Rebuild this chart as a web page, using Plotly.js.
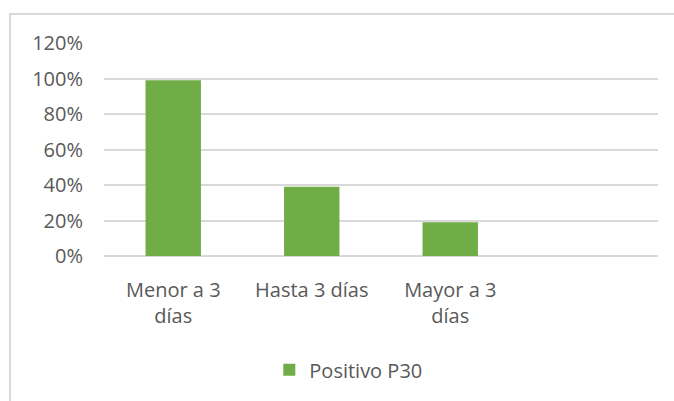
<!DOCTYPE html>
<html>
<head>
<meta charset="utf-8">
<script src="https://cdn.plot.ly/plotly-3.0.1.min.js"></script>
<style>
  html, body { margin: 0; padding: 0; background: #fff; overflow: hidden; }
  #wrap { position: relative; width: 674px; height: 401px; }
  #chart { position: absolute; left: 0; top: 0; width: 674px; height: 401px; }
  #frame { position: absolute; left: 9px; top: 13px; width: 700px; height: 420px;
           border: 2px solid #d9d9d9; box-sizing: border-box; pointer-events: none; }
</style>
</head>
<body>
<div id="wrap">
  <div id="chart"></div>
  <div id="frame"></div>
</div>
<script>
const categories = ["Menor a 3 días", "Hasta 3 días", "Mayor a 3 días"];
const tickLabels = ["Menor a 3<br>días", "Hasta 3 días", "Mayor a 3<br>días"];
const seriesName = "Positivo P30";
const values = [0.99, 0.39, 0.19];

const fontFamily = "'Open Sans', 'Liberation Sans', sans-serif";
const textColor = "#595959";

const trace = {
  type: "bar",
  name: seriesName,
  x: categories,
  y: values,
  width: 0.4,
  marker: { color: "#70AD47" },
  hoverinfo: "skip",
  showlegend: true
};

const layout = {
  width: 674,
  height: 401,
  margin: { l: 104, r: 16, t: 43, b: 145, pad: 0 },
  paper_bgcolor: "rgba(0,0,0,0)",
  plot_bgcolor: "rgba(0,0,0,0)",
  font: { family: fontFamily, size: 20, color: textColor },
  showlegend: true,
  legend: {
    orientation: "h",
    x: 0.441, xanchor: "center",
    y: -0.534, yanchor: "middle",
    font: { family: fontFamily, size: 20, color: textColor },
    bgcolor: "rgba(0,0,0,0)"
  },
  xaxis: {
    type: "category",
    range: [-0.5, 3.5],
    tickmode: "array",
    tickvals: categories,
    ticktext: tickLabels,
    showgrid: false,
    showline: false,
    zeroline: false,
    ticks: "",
    ticklabelstandoff: 20,
    tickfont: { family: fontFamily, size: 20, color: textColor },
    automargin: false,
    fixedrange: true
  },
  yaxis: {
    range: [0, 1.2],
    dtick: 0.2,
    tick0: 0,
    tickformat: ".0%",
    showgrid: true,
    gridcolor: "#d9d9d9",
    gridwidth: 2,
    zeroline: true,
    zerolinecolor: "#d9d9d9",
    zerolinewidth: 2,
    showline: false,
    ticks: "",
    ticklabelstandoff: 20,
    tickfont: { family: fontFamily, size: 20, color: textColor },
    automargin: false,
    fixedrange: true
  }
};

Plotly.newPlot("chart", [trace], layout, { displayModeBar: false, staticPlot: true });
</script>
</body>
</html>
